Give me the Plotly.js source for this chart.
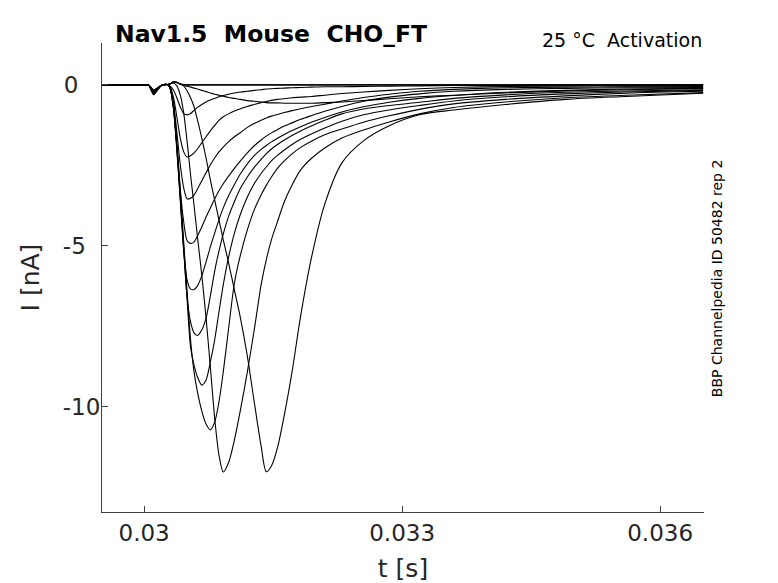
<!DOCTYPE html>
<html>
<head>
<meta charset="utf-8">
<script src="https://cdn.plot.ly/plotly-3.0.1.min.js"></script>
<style>html,body{margin:0;padding:0;background:#fff;}#chart{width:778px;height:583px;}</style>
</head>
<body>
<div id="chart"></div>
<script>
// time grid [s]
var t = [0.0295, 0.0300, 0.03005, 0.03008, 0.03011, 0.03014, 0.03020, 0.03027,
  0.03030, 0.03034, 0.03038, 0.03042, 0.03046, 0.03050, 0.03054, 0.03058, 0.03062, 0.03067,
  0.03072, 0.03077, 0.03082, 0.03087, 0.03092, 0.03098, 0.03105, 0.03112, 0.03120, 0.03128,
  0.03136, 0.03142, 0.03148, 0.03155, 0.03163, 0.03172, 0.03182, 0.03195, 0.03210, 0.03230,
  0.03255, 0.03285, 0.03320, 0.03360, 0.03420, 0.03490, 0.03560, 0.03650];

// current traces [nA], one per voltage step
var traceZ = [0,0,0,-0.08,-0.16,-0.12,-0.02,0.01,
  0.03,0.09,0.08,0.03,0.01,0,0,0,0,0,0,0,0,0,0,0,0,0,0,0,0,0,0,0,0,0,0,0,0,0,0,0,0,0,0,0,0,0];
var traceA = [0,0,0,-0.09,-0.18,-0.14,-0.02,0.01,
  0.03,0.09,0.07,0.02,-0.02,-0.04,-0.07,-0.10,-0.13,-0.17,-0.21,-0.25,-0.29,-0.32,-0.35,-0.39,
  -0.42,-0.45,-0.49,-0.51,-0.53,-0.55,-0.56,-0.56,-0.57,-0.57,-0.57,-0.57,-0.55,-0.53,-0.49,-0.43,
  -0.37,-0.32,-0.25,-0.19,-0.15,-0.11];
var traceB = [0,0,0,-0.10,-0.20,-0.15,-0.02,0.01,
  -0.03,-0.16,-0.40,-0.68,-0.89,-0.93,-0.89,-0.79,-0.70,-0.61,-0.53,-0.47,-0.42,-0.37,-0.33,-0.29,
  -0.25,-0.22,-0.20,-0.17,-0.15,-0.13,-0.12,-0.11,-0.10,-0.09,-0.08,-0.07,-0.06,-0.06,-0.05,-0.04,
  -0.03,-0.02,-0.02,-0.01,-0.01,0.00];
var traceC = [0,0,0,-0.11,-0.22,-0.16,-0.02,0.01,
  -0.05,-0.37,-0.99,-1.65,-2.08,-2.24,-2.20,-2.11,-1.99,-1.80,-1.61,-1.43,-1.26,-1.10,-0.99,-0.90,
  -0.81,-0.74,-0.67,-0.61,-0.55,-0.52,-0.48,-0.45,-0.43,-0.40,-0.38,-0.36,-0.32,-0.27,-0.22,-0.17,
  -0.12,-0.08,-0.05,-0.03,-0.03,-0.02];
var traceD = [0,0,0,-0.12,-0.23,-0.17,-0.02,0.01,
  -0.06,-0.53,-1.46,-2.48,-3.20,-3.54,-3.52,-3.42,-3.23,-2.98,-2.73,-2.48,-2.27,-2.08,-1.93,-1.77,
  -1.61,-1.48,-1.32,-1.20,-1.10,-1.03,-0.97,-0.92,-0.86,-0.80,-0.74,-0.67,-0.60,-0.50,-0.39,-0.29,
  -0.20,-0.14,-0.09,-0.07,-0.06,-0.05];
var traceE = [0,0,0,-0.13,-0.25,-0.18,-0.02,0.01,
  -0.08,-0.65,-1.86,-3.26,-4.25,-4.84,-4.92,-4.88,-4.69,-4.41,-4.10,-3.82,-3.54,-3.29,-3.07,-2.84,
  -2.59,-2.36,-2.11,-1.89,-1.71,-1.59,-1.49,-1.39,-1.28,-1.18,-1.07,-0.95,-0.82,-0.67,-0.51,-0.38,
  -0.28,-0.20,-0.14,-0.11,-0.09,-0.08];
var traceF = [0,0,0,-0.13,-0.26,-0.19,-0.02,0.01,
  -0.09,-0.71,-2.02,-3.57,-5.12,-6.06,-6.34,-6.35,-6.24,-5.93,-5.50,-5.03,-4.60,-4.19,-3.82,-3.45,
  -3.09,-2.76,-2.45,-2.20,-2.00,-1.88,-1.77,-1.66,-1.54,-1.42,-1.30,-1.15,-1.01,-0.84,-0.68,-0.54,
  -0.42,-0.33,-0.23,-0.17,-0.13,-0.11];
var traceG = [0,0,0,-0.14,-0.27,-0.20,-0.02,0.01,
  -0.09,-0.71,-1.96,-3.51,-5.12,-6.61,-7.36,-7.70,-7.78,-7.61,-7.24,-6.55,-5.78,-5.16,-4.63,-4.10,
  -3.62,-3.21,-2.86,-2.56,-2.31,-2.14,-1.99,-1.85,-1.71,-1.57,-1.43,-1.27,-1.10,-0.90,-0.75,-0.64,
  -0.54,-0.42,-0.31,-0.23,-0.19,-0.15];
var traceH = [0,0,0,-0.15,-0.29,-0.21,-0.02,0.01,
  -0.09,-0.68,-1.89,-3.45,-5.06,-6.68,-8.14,-8.70,-9.07,-9.32,-9.16,-8.60,-7.92,-7.05,-6.21,-5.37,
  -4.60,-4.01,-3.48,-3.07,-2.75,-2.55,-2.36,-2.19,-2.02,-1.85,-1.69,-1.52,-1.34,-1.13,-0.93,-0.78,
  -0.64,-0.50,-0.37,-0.28,-0.22,-0.17];
var traceI = [0,0,0,-0.16,-0.31,-0.22,-0.02,0.01,
  -0.09,-0.62,-1.77,-3.26,-4.88,-6.43,-7.92,-8.91,-9.53,-10.12,-10.53,-10.71,-10.47,-9.84,-8.91,-7.61,
  -6.15,-5.28,-4.50,-3.88,-3.42,-3.12,-2.86,-2.59,-2.36,-2.14,-1.94,-1.74,-1.55,-1.37,-1.16,-0.96,
  -0.76,-0.59,-0.45,-0.34,-0.26,-0.20];
var traceJ = [0,0,0,-0.12,-0.24,-0.17,-0.02,0.01,
  0.03,0.06,-0.03,-0.31,-0.87,-1.77,-2.80,-3.73,-4.72,-5.90,-7.24,-8.76,-10.34,-11.49,-12.02,-11.74,
  -11.02,-10.09,-8.91,-7.61,-6.21,-5.43,-4.81,-4.25,-3.63,-3.11,-2.64,-2.27,-1.96,-1.65,-1.40,-1.15,
  -0.90,-0.70,-0.53,-0.40,-0.32,-0.24];
var traceK = [0,0,0,-0.10,-0.19,-0.14,-0.02,0.01,
  0.03,0.09,0.08,0.03,-0.03,-0.19,-0.40,-0.68,-1.09,-1.65,-2.27,-2.95,-3.57,-4.19,-4.81,-5.50,
  -6.37,-7.24,-8.42,-9.84,-11.21,-12.01,-11.83,-11.27,-10.25,-8.91,-7.17,-5.31,-3.70,-2.42,-1.74,-1.27,
  -0.93,-0.78,-0.61,-0.45,-0.36,-0.26];

var series = [traceZ, traceZ, traceA, traceB, traceC, traceD, traceE, traceF, traceG, traceH, traceI, traceJ, traceK];

var NB = '\u00a0';
var xTickVals = [0.030, 0.033, 0.036];
var xTickText = ['0.03', '0.033', '0.036'];
var yTickVals = [-10, -5, 0];
var yTickText = ['-10', '-5' + NB + NB, '0' + NB + NB + NB];

var data = series.map(function (ys) {
  return {
    x: t, y: ys, type: 'scatter', mode: 'lines',
    line: {color: '#000000', width: 1.1, shape: 'spline', smoothing: 0.8},
    hoverinfo: 'skip', showlegend: false
  };
});

var FONT = 'DejaVu Sans, Verdana, sans-serif';

var layout = {
  width: 778, height: 583,
  margin: {l: 102, r: 74, t: 43, b: 71, pad: 0},
  paper_bgcolor: '#ffffff', plot_bgcolor: '#ffffff',
  font: {family: FONT, color: '#262626'},
  showlegend: false,
  title: {
    text: '<b>Nav1.5' + NB + NB + 'Mouse' + NB + NB + 'CHO_FT</b>',
    font: {family: FONT, size: 23.5, color: '#000000'},
    xref: 'container', x: 115 / 778, xanchor: 'left',
    yref: 'container', y: 1 - 34 / 583, yanchor: 'middle'
  },
  xaxis: {
    range: [0.02951, 0.03651],
    tickvals: xTickVals, ticktext: xTickText,
    ticks: 'inside', ticklen: 6, tickwidth: 1, tickcolor: '#404040',
    showline: true, linecolor: '#404040', linewidth: 1,
    showgrid: false, zeroline: false, mirror: false,
    tickfont: {family: FONT, size: 23, color: '#262626'},
    ticklabelstandoff: 0,
    title: {text: 't [s]', font: {family: FONT, size: 25, color: '#262626'}, standoff: 16}
  },
  yaxis: {
    range: [-13.26, 1.30],
    tickvals: yTickVals, ticktext: yTickText,
    ticks: 'inside', ticklen: 6, tickwidth: 1, tickcolor: '#404040',
    showline: true, linecolor: '#404040', linewidth: 1,
    showgrid: false, zeroline: false, mirror: false,
    tickfont: {family: FONT, size: 23, color: '#262626'},
    ticklabelstandoff: -4,
    title: {text: 'I [nA]', font: {family: FONT, size: 25, color: '#262626'}, standoff: 16}
  },
  annotations: [
    {
      text: '25 °C' + NB + NB + 'Activation',
      xref: 'paper', yref: 'paper', x: 1, y: 1 + 3 / 469,
      xanchor: 'right', yanchor: 'middle', showarrow: false,
      font: {family: FONT, size: 19, color: '#000000'}
    },
    {
      text: 'BBP Channelpedia ID 50482 rep 2',
      xref: 'paper', yref: 'paper', x: (716.7 - 102) / 602, y: (512 - 278.5) / 469,
      xanchor: 'center', yanchor: 'middle', showarrow: false, textangle: -90,
      font: {family: FONT, size: 14, color: '#000000'}
    }
  ]
};

Plotly.newPlot('chart', data, layout, {displayModeBar: false, staticPlot: true});
</script>
</body>
</html>
